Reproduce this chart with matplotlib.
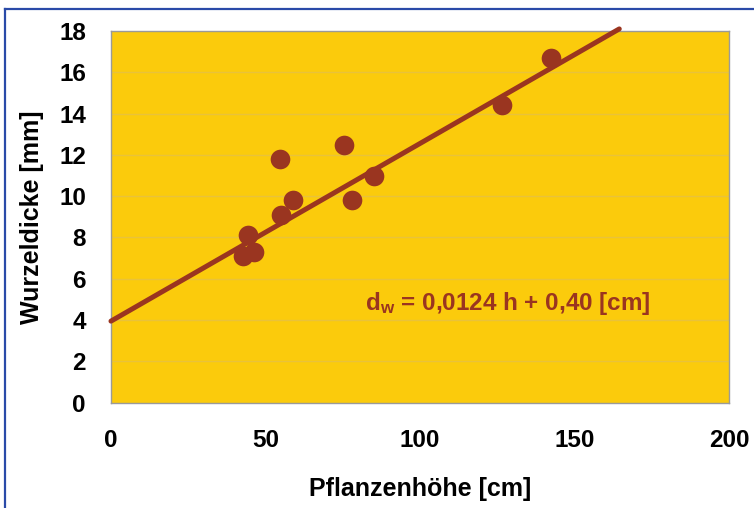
import matplotlib.pyplot as plt
from matplotlib.lines import Line2D

plt.rcParams['font.family'] = ['Liberation Sans', 'DejaVu Sans']
plt.rcParams['mathtext.fontset'] = 'custom'
plt.rcParams['mathtext.bf'] = 'Liberation Sans:bold'
plt.rcParams['mathtext.rm'] = 'Liberation Sans:bold'

# Messwerte: Pflanzenhöhe [cm] und Wurzeldicke [mm]
hoehe = [42.7, 44.5, 46.3, 54.7, 55.0, 59.0, 75.4, 78.0, 85.0, 126.5, 142.5]
dicke = [7.1, 8.1, 7.3, 11.8, 9.1, 9.8, 12.5, 9.8, 11.0, 14.4, 16.7]

# Regressionsgerade (Endpunkte wie im Bild)
fit_x = [0, 164.5]
fit_y = [3.95, 18.1]

x_ticks = [0, 50, 100, 150, 200]
y_ticks = [0, 2, 4, 6, 8, 10, 12, 14, 16, 18]

punkt_farbe = '#9a3520'
gold = '#fbcb0c'

fig = plt.figure(figsize=(7.54, 5.08), dpi=100)
ax = fig.add_axes([0.1472, 0.2073, 0.8196, 0.7317])
ax.set_facecolor(gold)

for y in y_ticks[1:-1]:
    ax.axhline(y, color='#e9c23a', lw=1, zorder=1)

ax.plot(fit_x, fit_y, color=punkt_farbe, lw=3.6, solid_capstyle='round', zorder=3, clip_on=False)
ax.scatter(hoehe, dicke, s=200, color=punkt_farbe, zorder=4, linewidths=0)

ax.text(82.2, 4.5, r'$\mathbf{d_w}$ = 0,0124 h + 0,40 [cm]', color=punkt_farbe,
        fontsize=17.5, fontweight='bold', va='baseline', ha='left')

ax.set_xlim(0, 200)
ax.set_ylim(0, 18)
ax.set_xticks(x_ticks)
ax.set_yticks(y_ticks)
ax.tick_params(axis='both', length=0, labelsize=17.5)
ax.tick_params(axis='x', pad=19)
ax.tick_params(axis='y', pad=18)
for lab in ax.get_xticklabels() + ax.get_yticklabels():
    lab.set_fontweight('bold')

for s in ax.spines.values():
    s.set_color('#9a9a9a')
    s.set_linewidth(1)

ax.set_xlabel('Pflanzenhöhe [cm]', fontsize=18, fontweight='bold')
ax.set_ylabel('Wurzeldicke [mm]', fontsize=18, fontweight='bold')
ax.xaxis.set_label_coords(0.5, -0.2)
ax.yaxis.set_label_coords(-0.108, 0.5)

# blauer Rahmen (oben und links)
bx = 5 / 754
by = 1 - 9 / 508
fig.add_artist(Line2D([bx, bx], [0, by], transform=fig.transFigure, color='#2a4aa8', lw=1.6))
fig.add_artist(Line2D([bx, 1], [by, by], transform=fig.transFigure, color='#2a4aa8', lw=1.6))

fig.savefig('out.png', dpi=100)
